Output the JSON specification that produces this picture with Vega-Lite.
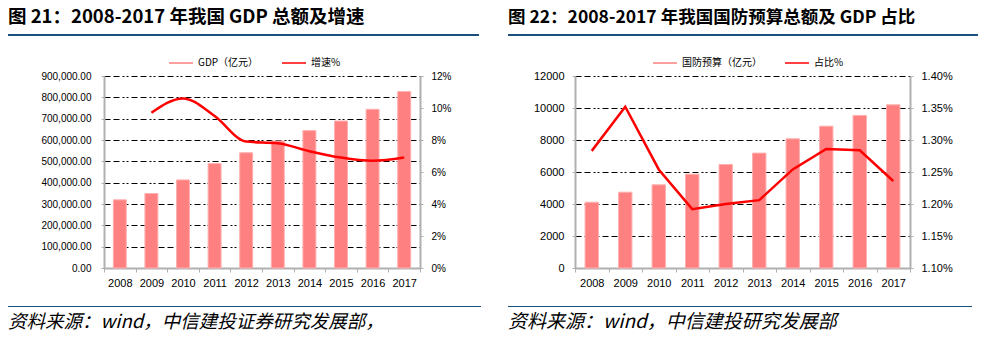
{
  "$schema": "https://vega.github.io/schema/vega-lite/v6.json",
  "padding": {"left": 8, "top": 7, "right": 0, "bottom": 0},
  "background": "#ffffff",
  "config": {
    "font": "Liberation Sans",
    "view": {"stroke": null},
    "axis": {"labelColor": "#000000", "titleColor": "#000000"}
  },
  "spacing": 27,
  "resolve": {"scale": {"color": "independent"}, "legend": {"color": "independent"}},
  "hconcat": [
    {
      "spacing": 14,
      "resolve": {"scale": {"color": "independent"}, "legend": {"color": "independent"}},
      "vconcat": [
        {
          "width": 471, "height": 2,
          "view": {"fill": "#1B4F7F", "stroke": null},
          "title": {"text": "图 21：2008-2017 年我国 GDP 总额及增速", "anchor": "start", "orient": "top", "offset": 8, "font": "Noto Sans CJK SC", "fontSize": 18.5, "fontWeight": "bold", "color": "#000000"},
          "data": {"values": []},
          "mark": "point",
          "encoding": {}
        },
        {
          "width": 471, "height": 192,
          "data": {"values": [
            {"year": "2008", "gdp": 319516, "growth": null},
            {"year": "2009", "gdp": 349081, "growth": 9.7},
            {"year": "2010", "gdp": 413030, "growth": 10.6},
            {"year": "2011", "gdp": 489301, "growth": 9.5},
            {"year": "2012", "gdp": 540367, "growth": 7.9},
            {"year": "2013", "gdp": 595244, "growth": 7.8},
            {"year": "2014", "gdp": 643974, "growth": 7.3},
            {"year": "2015", "gdp": 689052, "growth": 6.9},
            {"year": "2016", "gdp": 744127, "growth": 6.7},
            {"year": "2017", "gdp": 827122, "growth": 6.9}
          ]},
          "layer": [
            {
              "mark": {"type": "bar", "width": {"band": 0.41}, "stroke": "#FFB0B0", "strokeWidth": 1},
              "encoding": {
                "x": {"field": "year", "type": "ordinal", "scale": {"range": [96, 412], "paddingInner": 0, "paddingOuter": 0},
                  "axis": {"title": null, "labelAngle": 0, "labelFont": "Liberation Sans", "labelFontSize": 11, "labelPadding": 5, "domainColor": "#B0B0B0", "domainWidth": 2, "tickColor": "#B0B0B0", "tickSize": 4, "tickBand": "extent", "grid": false, "minExtent": 24}},
                "y": {"field": "gdp", "type": "quantitative", "scale": {"domain": [0, 900000], "nice": false},
                  "axis": {"title": null, "offset": -96, "values": [0, 100000, 200000, 300000, 400000, 500000, 600000, 700000, 800000, 900000], "format": ",.2f", "labelFont": "Liberation Sans", "labelFontSize": 10, "labelPadding": 10, "domainColor": "#B0B0B0", "domainWidth": 2, "tickColor": "#B0B0B0", "tickSize": 3, "grid": true, "gridColor": "#000000", "gridWidth": 1, "gridDash": [6, 3, 6, 3, 2, 2, 2, 3]}},
                "color": {"datum": "GDP（亿元）", "type": "nominal",
                  "scale": {"domain": ["GDP（亿元）", "增速%"], "range": ["#FF8080", "#FF0000"]},
                  "legend": {"orient": "none", "legendX": 160, "legendY": -26, "direction": "horizontal", "title": null, "symbolType": "stroke", "symbolSize": 576, "labelFont": "Noto Sans CJK SC", "labelFontSize": 10, "labelColor": "#000000", "labelOffset": 4, "columnPadding": 20,
                    "encode": {"symbols": {"update": {"stroke": {"signal": "datum.value === 'GDP（亿元）' ? '#FF8080' : '#FF0000'"}, "strokeWidth": {"signal": "datum.value === 'GDP（亿元）' ? 5 : 2"}, "fill": {"value": "transparent"}}}}}
                }
              }
            },
            {
              "mark": {"type": "line", "strokeWidth": 2.5, "interpolate": "monotone"},
              "encoding": {
                "x": {"field": "year", "type": "ordinal"},
                "y": {"field": "growth", "type": "quantitative", "scale": {"domain": [0, 12], "nice": false},
                  "axis": {"title": null, "orient": "right", "offset": -59, "values": [0, 2, 4, 6, 8, 10, 12], "labelExpr": "datum.value + '%'", "labelFont": "Liberation Sans", "labelFontSize": 10, "labelPadding": 8, "domainColor": "#B0B0B0", "domainWidth": 2, "tickColor": "#B0B0B0", "tickSize": 3, "grid": false}},
                "color": {"datum": "增速%", "type": "nominal"}
              }
            }
          ],
          "resolve": {"scale": {"y": "independent"}}
        },
        {
          "width": 473, "height": 1,
          "view": {"fill": "#1B4F7F", "stroke": null},
          "title": {"text": "资料来源：wind，中信建投证券研究发展部，", "anchor": "start", "orient": "bottom", "offset": 6, "font": "Noto Sans CJK SC", "fontSize": 18.5, "fontStyle": "italic", "fontWeight": "normal", "color": "#000000"},
          "data": {"values": []},
          "mark": "point",
          "encoding": {}
        }
      ]
    },
    {
      "spacing": 14,
      "resolve": {"scale": {"color": "independent"}, "legend": {"color": "independent"}},
      "vconcat": [
        {
          "width": 470, "height": 2,
          "view": {"fill": "#1B4F7F", "stroke": null},
          "title": {"text": "图 22：2008-2017 年我国国防预算总额及 GDP 占比", "anchor": "start", "orient": "top", "offset": 8, "font": "Noto Sans CJK SC", "fontSize": 17.5, "fontWeight": "bold", "color": "#000000"},
          "data": {"values": []},
          "mark": "point",
          "encoding": {}
        },
        {
          "width": 470, "height": 192,
          "data": {"values": [
            {"year": "2008", "budget": 4110, "share": 1.283},
            {"year": "2009", "budget": 4740, "share": 1.352},
            {"year": "2010", "budget": 5200, "share": 1.254},
            {"year": "2011", "budget": 5865, "share": 1.192},
            {"year": "2012", "budget": 6470, "share": 1.2},
            {"year": "2013", "budget": 7180, "share": 1.206},
            {"year": "2014", "budget": 8075, "share": 1.254},
            {"year": "2015", "budget": 8865, "share": 1.286},
            {"year": "2016", "budget": 9535, "share": 1.284},
            {"year": "2017", "budget": 10200, "share": 1.236}
          ]},
          "layer": [
            {
              "mark": {"type": "bar", "width": {"band": 0.4}, "stroke": "#FFB0B0", "strokeWidth": 1},
              "encoding": {
                "x": {"field": "year", "type": "ordinal", "scale": {"range": [67, 402], "paddingInner": 0, "paddingOuter": 0},
                  "axis": {"title": null, "labelAngle": 0, "labelFont": "Liberation Sans", "labelFontSize": 11, "labelPadding": 5, "domainColor": "#B0B0B0", "domainWidth": 2, "tickColor": "#B0B0B0", "tickSize": 4, "tickBand": "extent", "grid": false, "minExtent": 24}},
                "y": {"field": "budget", "type": "quantitative", "scale": {"domain": [0, 12000], "nice": false},
                  "axis": {"title": null, "offset": -67, "values": [0, 2000, 4000, 6000, 8000, 10000, 12000], "format": "d", "labelFont": "Liberation Sans", "labelFontSize": 11, "labelPadding": 8, "domainColor": "#B0B0B0", "domainWidth": 2, "tickColor": "#B0B0B0", "tickSize": 3, "grid": true, "gridColor": "#000000", "gridWidth": 1, "gridDash": [6, 3, 6, 3, 2, 2, 2, 3]}},
                "color": {"datum": "国防预算（亿元）", "type": "nominal",
                  "scale": {"domain": ["国防预算（亿元）", "占比%"], "range": ["#FF8080", "#FF0000"]},
                  "legend": {"orient": "none", "legendX": 144, "legendY": -26, "direction": "horizontal", "title": null, "symbolType": "stroke", "symbolSize": 576, "labelFont": "Noto Sans CJK SC", "labelFontSize": 10, "labelColor": "#000000", "labelOffset": 4, "columnPadding": 20,
                    "encode": {"symbols": {"update": {"stroke": {"signal": "datum.value === '国防预算（亿元）' ? '#FF8080' : '#FF0000'"}, "strokeWidth": {"signal": "datum.value === '国防预算（亿元）' ? 5 : 2"}, "fill": {"value": "transparent"}}}}}
                }
              }
            },
            {
              "mark": {"type": "line", "strokeWidth": 2.5},
              "encoding": {
                "x": {"field": "year", "type": "ordinal"},
                "y": {"field": "share", "type": "quantitative", "scale": {"domain": [1.1, 1.4], "nice": false, "zero": false},
                  "axis": {"title": null, "orient": "right", "offset": -68, "values": [1.1, 1.15, 1.2, 1.25, 1.3, 1.35, 1.4], "labelExpr": "format(datum.value, '.2f') + '%'", "labelFont": "Liberation Sans", "labelFontSize": 11, "labelPadding": 8, "domainColor": "#B0B0B0", "domainWidth": 2, "tickColor": "#B0B0B0", "tickSize": 3, "grid": false}},
                "color": {"datum": "占比%", "type": "nominal"}
              }
            }
          ],
          "resolve": {"scale": {"y": "independent"}}
        },
        {
          "width": 464, "height": 1,
          "view": {"fill": "#1B4F7F", "stroke": null},
          "title": {"text": "资料来源：wind，中信建投研究发展部", "anchor": "start", "orient": "bottom", "offset": 6, "font": "Noto Sans CJK SC", "fontSize": 19, "fontStyle": "italic", "fontWeight": "normal", "color": "#000000"},
          "data": {"values": []},
          "mark": "point",
          "encoding": {}
        }
      ]
    }
  ]
}
